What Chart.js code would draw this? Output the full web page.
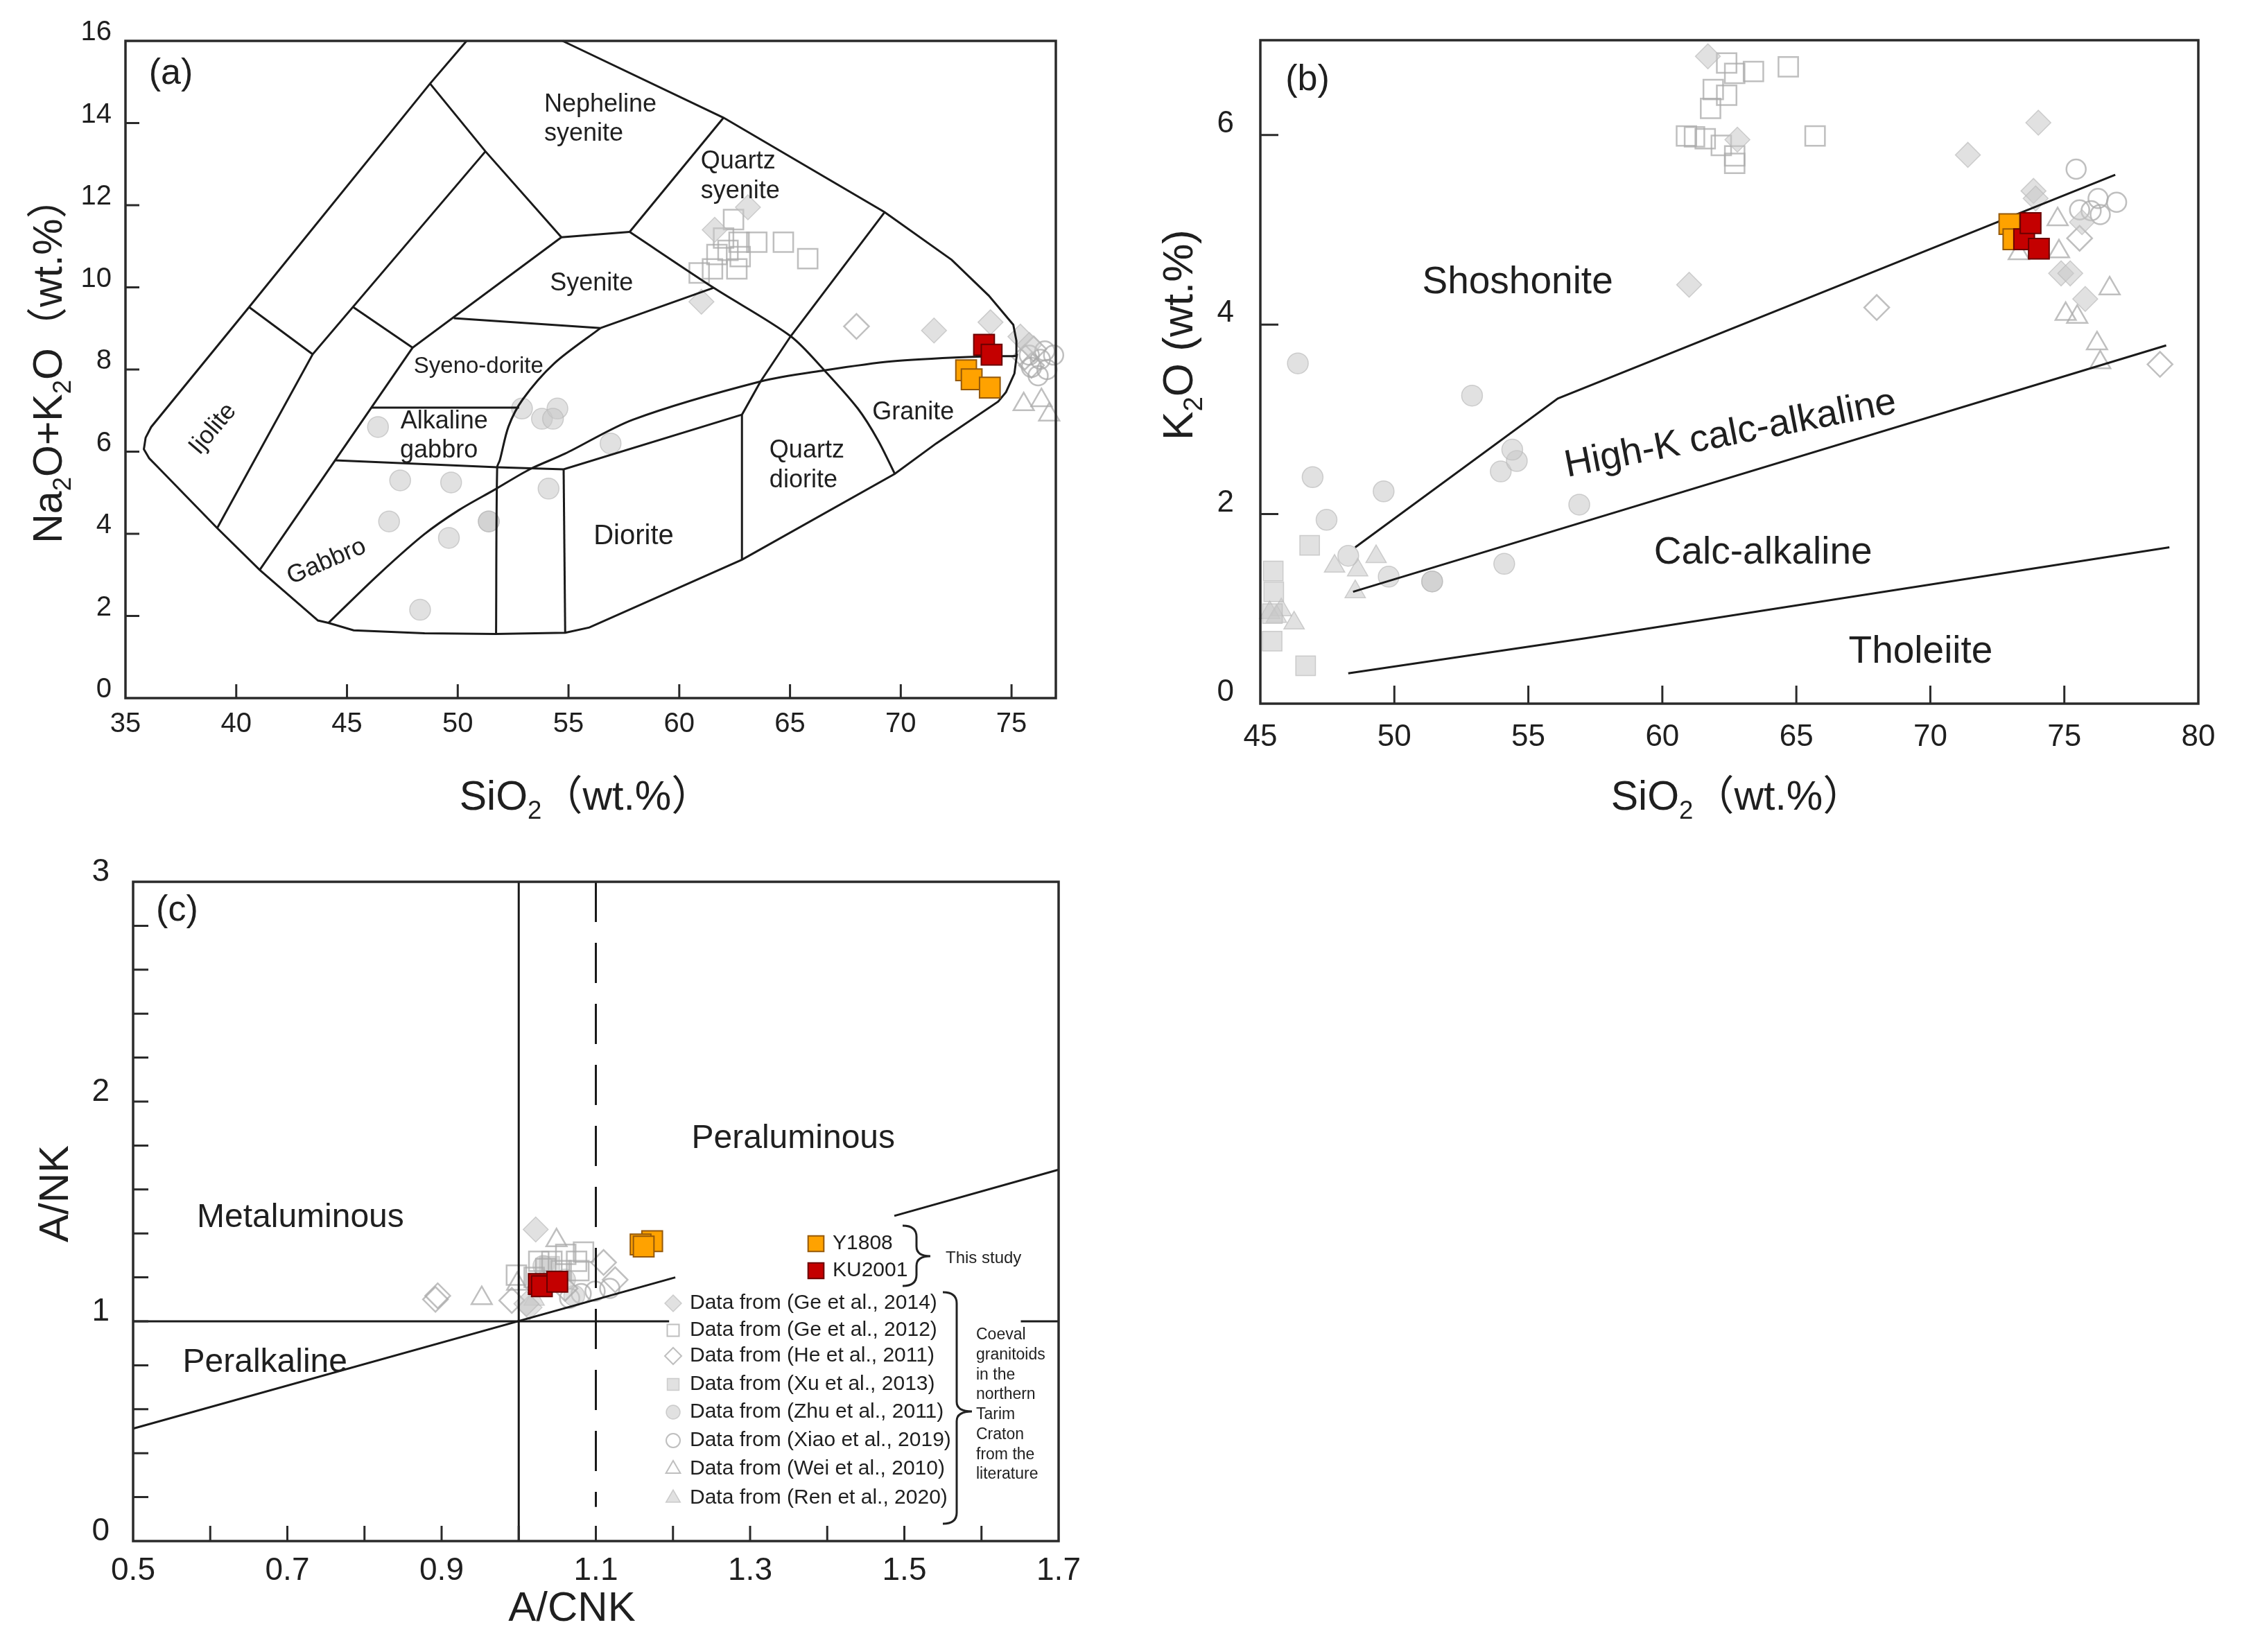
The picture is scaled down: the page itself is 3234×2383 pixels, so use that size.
<!DOCTYPE html>
<html>
<head>
<meta charset="utf-8">
<script src="https://cdn.jsdelivr.net/npm/chart.js@4.4.0/dist/chart.umd.min.js"></script>
<style>
  html, body { margin: 0; padding: 0; background: #fff; }
  #page { position: relative; width: 3234px; height: 2383px; overflow: hidden; background: #fff; }
  #page canvas { position: absolute; left: 0; top: 0; }
</style>
</head>
<body>
<div id="page">
  <canvas id="chartA" width="3234" height="2383"></canvas>
  <canvas id="chartB" width="3234" height="2383"></canvas>
  <canvas id="chartC" width="3234" height="2383"></canvas>
</div>
<script>
// ---------- (a) TAS diagram: SiO2 vs Na2O+K2O ----------
const xTicksA = [35, 40, 45, 50, 55, 60, 65, 70, 75];
const yTicksA = [0, 2, 4, 6, 8, 10, 12, 14, 16];
const xMarksA = [40, 45, 50, 55, 60, 65, 70, 75];
const yMarksA = [2, 4, 6, 8, 10, 12, 14];

const outerA = [[50.4,16],[48.75,14.96],[40.58,9.52],[36.16,6.6],[35.91,6.34],[35.83,6.06],[36.07,5.84],[36.43,5.64],
  [39.14,4.14],[41.06,3.12],[43.69,1.89],[44.16,1.83],[45.3,1.65],[48.5,1.58],[51.7,1.56],[54.85,1.59],[55.94,1.72],
  [62.83,3.37],[69.73,5.46],[71.6,6.2],[74.4,7.22],[74.75,7.45],[75.13,7.9],[75.24,8.36],[75.22,8.7],[75.08,9.09],
  [73.97,9.8],[72.3,10.67],[69.27,11.83],[62.0,14.13],[54.73,16]];
const ijoliteTopA = [[40.58,9.52],[43.45,8.37]];
const innerLeftA = [[39.14,4.14],[43.45,8.37],[51.25,13.31]];
const shortMidA = [[45.28,9.52],[47.96,8.53]];
const gabbroLeftA = [[41.06,3.12],[47.96,8.53],[54.68,11.22]];
const nephLowerA = [[48.75,14.96],[51.25,13.31],[54.68,11.22]];
const syeniteTopA = [[54.68,11.22],[57.76,11.35]];
const qzSyeLeftA = [[57.76,11.35],[62.0,14.13]];
const graniteLeftA = [[57.76,11.35],[61.55,9.99],[65.03,8.81],[66.55,7.98],[68.06,7.05],[68.97,6.28],[69.73,5.46]];
const syeniteBaseA = [[49.82,9.25],[56.45,9.01]];
const syeniteRightA = [[56.45,9.01],[61.55,9.99]];
const syenoRightA = [[56.45,9.01],[54.36,8.15],[52.93,7.27],[52.29,6.61],[51.9,5.79],[51.78,5.62],[51.73,1.56]];
const alkGabTopA = [[46.1,7.07],[52.77,7.07]];
const alkGabBaseA = [[44.46,5.79],[51.78,5.62],[54.78,5.57],[62.83,6.9]];
const dioriteLeftA = [[54.78,5.57],[54.85,1.59]];
const qzDioLeftA = [[69.27,11.83],[65.03,8.81],[63.67,7.71],[62.83,6.9],[62.83,3.37]];
const alkDivideA = [[44.16,1.83],[46.39,2.99],[48.47,3.98],[50.06,4.58],[51.65,5.07],[53.25,5.57],[54.84,5.95],
  [57.91,6.78],[63.67,7.71],[66.55,7.98],[69.58,8.2],[73.21,8.31],[75.24,8.33]];

const y1808A = [[72.95,7.98],[73.2,7.76],[74.02,7.56]];
const ku2001A = [[73.76,8.6],[74.1,8.36]];
const ge2014A = [[61.0,9.65],[61.6,11.4],[63.1,11.95],[71.5,8.95],[74.05,9.15],[75.4,8.8],[75.8,8.6]];
const ge2012A = [[60.9,10.35],[61.5,10.45],[61.7,10.8],[62.0,11.2],[62.45,11.65],[62.7,11.1],[62.75,10.75],
  [62.6,10.45],[63.5,11.1],[64.7,11.1],[65.8,10.7],[62.2,10.9]];
const he2011A = [[68.0,9.05],[75.6,8.3],[76.0,8.5],[75.9,8.1]];
const zhu2011A = [[46.4,6.6],[47.4,5.3],[49.7,5.25],[46.9,4.3],[51.4,4.3],[51.4,4.3],[49.6,3.9],[48.3,2.15],
  [52.9,7.05],[53.8,6.8],[54.5,7.05],[54.3,6.8],[54.1,5.1],[56.9,6.2]];
const xiao2019A = [[75.9,8.05],[76.3,8.25],[76.6,8.0],[76.9,8.35],[76.5,8.45],[76.2,7.85],[75.8,8.35]];
const wei2010A = [[75.55,7.15],[76.35,7.25],[76.7,6.9]];

// ---------- (b) SiO2 vs K2O ----------
const xTicksB = [45, 50, 55, 60, 65, 70, 75, 80];
const yTicksB = [0, 2, 4, 6];
const xMarksB = [50, 55, 60, 65, 70, 75];
const yMarksB = [2, 4, 6];

const shoshLineB = [[48.54,1.65],[56.1,3.22],[76.9,5.58]];
const highKLineB = [[48.46,1.18],[78.8,3.78]];
const tholLineB = [[48.28,0.32],[57.12,0.69],[78.92,1.65]];

const y1808B = [[72.95,5.06],[73.1,4.9]];
const ku2001B = [[73.5,4.9],[73.74,5.07],[74.05,4.8]];
const ge2014B = [[61.7,6.83],[62.8,5.95],[71.4,5.79],[74.03,6.13],[73.85,5.41],[73.93,5.33],[75.66,5.08],
  [74.88,4.54],[75.22,4.54],[75.78,4.27],[61.0,4.42]];
const ge2012B = [[62.4,6.76],[62.7,6.65],[63.4,6.67],[64.7,6.72],[61.9,6.48],[62.4,6.42],[61.8,6.28],[60.9,5.99],
  [61.2,5.98],[61.6,5.96],[62.2,5.89],[62.7,5.78],[62.7,5.7],[65.7,5.99]];
const he2011B = [[68.0,4.18],[78.57,3.58],[75.57,4.91]];
const xu2013B = [[46.84,1.67],[45.48,1.4],[45.5,1.18],[45.44,0.66],[46.69,0.4],[45.45,0.95]];
const zhu2011B = [[46.4,3.59],[46.95,2.39],[47.47,1.94],[48.28,1.56],[49.6,2.24],[49.79,1.34],[51.41,1.29],[51.41,1.29],
  [52.9,3.25],[53.97,2.45],[54.57,2.56],[54.4,2.68],[54.1,1.475],[56.9,2.1]];
const xiao2019B = [[75.44,5.64],[76.26,5.33],[76.95,5.29],[75.57,5.21],[76.34,5.16],[76.0,5.2]];
const wei2010B = [[74.75,5.11],[74.8,4.77],[76.69,4.38],[75.05,4.11],[75.48,4.08],[76.22,3.8],[76.34,3.6],[73.3,4.75]];
const ren2020B = [[47.77,1.45],[48.63,1.41],[49.32,1.55],[48.54,1.18],[45.78,0.99],[45.35,0.96],[46.26,0.85],[45.6,0.92]];

// ---------- (c) A/CNK vs A/NK ----------
const xTicksC = [0.5, 0.7, 0.9, 1.1, 1.3, 1.5, 1.7];
const yTicksC = [0, 1, 2, 3];
const xMarksC = [0.6, 0.7, 0.8, 0.9, 1.0, 1.1, 1.2, 1.3, 1.4, 1.5, 1.6];
const yMarksC = [0.2, 0.4, 0.6, 0.8, 1.0, 1.2, 1.4, 1.6, 1.8, 2.0, 2.2, 2.4, 2.6, 2.8];

const metaLineC = [[1.0,0],[1.0,3]];
const dashLineC = [[1.1,3],[1.1,0.155]];
const alkLineC1 = [[0.5,1],[1.195,1]];
const alkLineC2 = [[1.651,1],[1.7,1]];
const diagLineC1 = [[0.5,0.512],[1.203,1.2]];
const diagLineC2 = [[1.487,1.48],[1.7,1.69]];

const y1808C = [[1.173,1.365],[1.158,1.35],[1.162,1.34]];
const ku2001C = [[1.026,1.17],[1.03,1.16],[1.05,1.18]];
const ge2014C = [[1.022,1.418],[1.014,1.063],[1.01,1.08]];
const ge2012C = [[1.084,1.315],[1.061,1.305],[1.075,1.273],[1.026,1.273],[0.997,1.21],[1.055,1.231],[1.043,1.273],
  [1.078,1.231],[1.02,1.2],[1.035,1.24]];
const he2011C = [[0.895,1.116],[0.892,1.1],[1.11,1.268],[1.125,1.189],[0.991,1.095],[1.06,1.15]];
const xu2013C = [[1.04,1.25]];
const zhu2011C = [[1.032,1.252],[1.072,1.116],[1.06,1.19]];
const xiao2019C = [[1.099,1.137],[1.081,1.126],[1.066,1.105],[1.118,1.15]];
const wei2010C = [[0.952,1.105],[1.049,1.368],[0.998,1.17]];
const ren2020C = [[1.02,1.1]];

const sourceNames = ['Data from (Ge et al., 2014)', 'Data from (Ge et al., 2012)', 'Data from (He et al., 2011)',
  'Data from (Xu et al., 2013)', 'Data from (Zhu et al., 2011)', 'Data from (Xiao et al., 2019)',
  'Data from (Wei et al., 2010)', 'Data from (Ren et al., 2020)'];
const studyNames = ['Y1808', 'KU2001'];
const noteLines = ['Coeval', 'granitoids', 'in the', 'northern', 'Tarim', 'Craton', 'from the', 'literature'];

// ---------- drawing setup ----------
const PAGE_W = 3234, PAGE_H = 2383;
const AXIS_W = 160, AXIS_H = 130;   // room kept for tick labels (they are clipped to the scale box)
const FONT = "'Liberation Sans', Arial, 'Noto Sans CJK SC', sans-serif";
const INK = '#1f1f1f';
Chart.defaults.font.family = FONT;
Chart.defaults.color = INK;

const grayFill = 'rgba(200,200,200,0.55)';
const grayEdge = 'rgba(185,185,185,0.65)';
const grayLine = 'rgba(170,170,170,0.75)';
const clear = 'rgba(0,0,0,0)';

const styles = {
  y1808:  { shape: 'rect', r: 21, fill: '#ffa200', stroke: '#95590a', lw: 2 },
  ku2001: { shape: 'rect', r: 21, fill: '#c40000', stroke: '#6a0000', lw: 2 },
  ge2014: { shape: 'rectRot', r: 18, fill: grayFill, stroke: grayEdge, lw: 1.5 },
  ge2012: { shape: 'rect', r: 20, fill: clear, stroke: grayLine, lw: 2.5 },
  he2011: { shape: 'rectRot', r: 18, fill: clear, stroke: grayLine, lw: 2.5 },
  xu2013: { shape: 'rect', r: 20, fill: grayFill, stroke: grayEdge, lw: 1.5 },
  zhu2011: { shape: 'circle', r: 15, fill: grayFill, stroke: grayEdge, lw: 1.5 },
  xiao2019: { shape: 'circle', r: 14, fill: clear, stroke: grayLine, lw: 2.5 },
  wei2010: { shape: 'triangle', r: 17, fill: clear, stroke: grayLine, lw: 2.5 },
  ren2020: { shape: 'triangle', r: 17, fill: grayFill, stroke: grayEdge, lw: 1.5 }
};
const legendOrder = ['ge2014', 'ge2012', 'he2011', 'xu2013', 'zhu2011', 'xiao2019', 'wei2010', 'ren2020'];

function pts(arr) {
  return arr.map(p => ({ x: p[0], y: p[1] }));
}

function markSet(arr, key, order) {
  const st = styles[key];
  return {
    type: 'scatter', data: pts(arr), showLine: false, order: order, clip: false,
    pointStyle: st.shape, pointRadius: st.r, pointHoverRadius: st.r,
    pointBackgroundColor: st.fill, pointBorderColor: st.stroke, pointBorderWidth: st.lw
  };
}

function lineSet(arr, extra) {
  return Object.assign({
    type: 'scatter', data: pts(arr), showLine: true, pointRadius: 0, pointHoverRadius: 0,
    borderColor: '#1a1a1a', borderWidth: 3, fill: false, tension: 0, order: 1, clip: false
  }, extra || {});
}

function drawRich(ctx, parts, size, x, y, angle) {
  const sub = size * 0.62;
  ctx.save();
  ctx.translate(x, y);
  ctx.rotate(angle);
  let total = 0;
  const widths = parts.map(p => {
    ctx.font = (p[1] ? sub : size) + 'px ' + FONT;
    const w = ctx.measureText(p[0]).width;
    total += w;
    return w;
  });
  ctx.textAlign = 'left';
  ctx.textBaseline = 'alphabetic';
  ctx.fillStyle = INK;
  let cx = -total / 2;
  parts.forEach((p, i) => {
    ctx.font = (p[1] ? sub : size) + 'px ' + FONT;
    ctx.fillText(p[0], cx, p[1] ? size * 0.58 : size * 0.36);
    cx += widths[i];
  });
  ctx.restore();
}

function drawMark(ctx, key, x, y, r) {
  const st = styles[key];
  ctx.save();
  ctx.beginPath();
  if (st.shape === 'circle') {
    ctx.arc(x, y, r, 0, Math.PI * 2);
  } else if (st.shape === 'rect') {
    const h = r * Math.SQRT1_2;
    ctx.rect(x - h, y - h, 2 * h, 2 * h);
  } else if (st.shape === 'rectRot') {
    ctx.moveTo(x, y - r); ctx.lineTo(x + r, y); ctx.lineTo(x, y + r); ctx.lineTo(x - r, y); ctx.closePath();
  } else {
    ctx.moveTo(x, y - r);
    ctx.lineTo(x + r * 0.866, y + r * 0.5);
    ctx.lineTo(x - r * 0.866, y + r * 0.5);
    ctx.closePath();
  }
  ctx.fillStyle = st.fill;
  ctx.fill();
  ctx.lineWidth = Math.min(st.lw, 2);
  ctx.strokeStyle = st.stroke;
  ctx.stroke();
  ctx.restore();
}

function drawBrace(ctx, x, top, bottom, tipX, tipY) {
  const mid = x + 14;
  ctx.beginPath();
  ctx.moveTo(x - 6, top);
  ctx.quadraticCurveTo(mid, top, mid, top + 16);
  ctx.lineTo(mid, tipY - 14);
  ctx.quadraticCurveTo(mid, tipY, tipX, tipY);
  ctx.quadraticCurveTo(mid, tipY, mid, tipY + 14);
  ctx.lineTo(mid, bottom - 16);
  ctx.quadraticCurveTo(mid, bottom, x - 6, bottom);
  ctx.stroke();
}

const panelPlugin = {
  id: 'panel',
  afterDatasetsDraw(chart, args, o) {
    const ctx = chart.ctx;
    const a = chart.chartArea;
    const xs = chart.scales.x, ys = chart.scales.y;
    ctx.save();
    ctx.strokeStyle = '#2a2a2a';
    ctx.lineWidth = o.frameWidth;
    ctx.strokeRect(a.left, a.top, a.right - a.left, a.bottom - a.top);
    ctx.beginPath();
    o.xMarks.forEach(v => {
      const px = xs.getPixelForValue(v);
      ctx.moveTo(px, a.bottom); ctx.lineTo(px, a.bottom - o.tickLen);
    });
    o.yMarks.forEach(v => {
      const py = ys.getPixelForValue(v);
      ctx.moveTo(a.left, py); ctx.lineTo(a.left + o.tickLen, py);
    });
    ctx.lineWidth = 3;
    ctx.stroke();

    ctx.fillStyle = INK;
    o.labels.forEach(l => {
      ctx.save();
      ctx.translate(xs.getPixelForValue(l.x), ys.getPixelForValue(l.y));
      ctx.rotate((l.rot || 0) * Math.PI / 180);
      ctx.font = l.size + 'px ' + FONT;
      ctx.textAlign = l.align || 'center';
      ctx.textBaseline = 'middle';
      ctx.fillText(l.text, 0, 0);
      ctx.restore();
    });

    o.titles.forEach(t => drawRich(ctx, t.parts, t.size, t.x, t.y, (t.rot || 0) * Math.PI / 180));

    if (o.legend) {
      const g = o.legend;
      ctx.textAlign = 'left';
      ctx.textBaseline = 'middle';
      ctx.fillStyle = INK;
      ['y1808', 'ku2001'].forEach((k, i) => {
        drawMark(ctx, k, g.studyX, g.studyY[i], 16);
        ctx.font = '30px ' + FONT;
        ctx.fillText(studyNames[i], g.studyX + 24, g.studyY[i]);
      });
      legendOrder.forEach((k, i) => {
        drawMark(ctx, k, g.srcX, g.srcY[i], k === 'zhu2011' || k === 'xiao2019' ? 10 : 12);
        ctx.font = '30px ' + FONT;
        ctx.fillStyle = INK;
        ctx.fillText(sourceNames[i], g.srcX + 24, g.srcY[i]);
      });
      ctx.strokeStyle = '#222';
      ctx.lineWidth = 3;
      drawBrace(ctx, 1308, 1768, 1855, 1342, 1812);
      drawBrace(ctx, 1366, 1864, 2198, 1402, 2036);
      ctx.font = '24px ' + FONT;
      ctx.fillText('This study', 1364, 1815);
      ctx.font = '23px ' + FONT;
      noteLines.forEach((s, i) => ctx.fillText(s, 1408, 1926 + i * 28.7));
    }
    ctx.restore();
  }
};

function makeOptions(area, xr, yr, xt, yt, tick, panel) {
  return {
    responsive: false, animation: false, events: [], devicePixelRatio: 1,
    layout: { padding: { left: area.l - AXIS_W, top: area.t, right: PAGE_W - area.r, bottom: PAGE_H - area.b - AXIS_H } },
    plugins: { legend: { display: false }, tooltip: { enabled: false }, panel: panel },
    scales: {
      x: {
        type: 'linear', min: xr[0], max: xr[1],
        afterFit: s => { s.height = AXIS_H; },
        afterBuildTicks: s => { s.ticks = xt.map(v => ({ value: v })); },
        grid: { display: false }, border: { display: false },
        ticks: { font: { size: tick.size }, color: INK, padding: tick.xPad, autoSkip: false, maxRotation: 0,
          callback: v => String(v) }
      },
      y: {
        type: 'linear', min: yr[0], max: yr[1],
        afterFit: s => { s.width = AXIS_W; },
        afterBuildTicks: s => { s.ticks = yt.map(v => ({ value: v })); },
        grid: { display: false }, border: { display: false },
        ticks: { font: { size: tick.size }, color: INK, padding: tick.yPad, autoSkip: false, labelOffset: tick.yOff,
          callback: v => String(v) }
      }
    }
  };
}

// ---------- panel (a) ----------
const curve = { tension: 0.3 };
new Chart(document.getElementById('chartA'), {
  type: 'scatter',
  data: {
    datasets: [
      markSet(ku2001A, 'ku2001', 0),
      markSet(y1808A, 'y1808', 0),
      lineSet(outerA),
      lineSet(ijoliteTopA), lineSet(innerLeftA), lineSet(shortMidA), lineSet(gabbroLeftA), lineSet(nephLowerA),
      lineSet(syeniteTopA), lineSet(qzSyeLeftA), lineSet(graniteLeftA, curve), lineSet(syeniteBaseA),
      lineSet(syeniteRightA), lineSet(syenoRightA, curve), lineSet(alkGabTopA), lineSet(alkGabBaseA),
      lineSet(dioriteLeftA), lineSet(qzDioLeftA), lineSet(alkDivideA, curve),
      markSet(ge2014A, 'ge2014', 2), markSet(ge2012A, 'ge2012', 2), markSet(he2011A, 'he2011', 2),
      markSet(zhu2011A, 'zhu2011', 2), markSet(xiao2019A, 'xiao2019', 2), markSet(wei2010A, 'wei2010', 2)
    ]
  },
  options: makeOptions({ l: 181, t: 59, r: 1523, b: 1007 }, [35, 77], [0, 16], xTicksA, yTicksA,
    { size: 40, xPad: 6, yPad: 12, yOff: -12 },
    {
      frameWidth: 3.5, tickLen: 20, xMarks: xMarksA, yMarks: yMarksA,
      labels: [
        { text: '(a)', x: 37.05, y: 15.2, size: 52 },
        { text: 'Nepheline', x: 53.9, y: 14.45, size: 36, align: 'left' },
        { text: 'syenite', x: 53.9, y: 13.73, size: 36, align: 'left' },
        { text: 'Quartz', x: 60.97, y: 13.06, size: 36, align: 'left' },
        { text: 'syenite', x: 60.97, y: 12.33, size: 36, align: 'left' },
        { text: 'Syenite', x: 56.04, y: 10.09, size: 36 },
        { text: 'Syeno-dorite', x: 50.94, y: 8.07, size: 33 },
        { text: 'Alkaline', x: 49.39, y: 6.73, size: 36 },
        { text: 'gabbro', x: 49.15, y: 6.02, size: 36 },
        { text: 'Ijolite', x: 38.95, y: 6.55, size: 36, rot: -50 },
        { text: 'Gabbro', x: 44.08, y: 3.32, size: 36, rot: -23 },
        { text: 'Diorite', x: 57.94, y: 3.94, size: 40 },
        { text: 'Quartz', x: 64.07, y: 6.03, size: 36, align: 'left' },
        { text: 'diorite', x: 64.07, y: 5.29, size: 36, align: 'left' },
        { text: 'Granite', x: 70.56, y: 6.96, size: 36 }
      ],
      titles: [
        { parts: [['SiO', 0], ['2', 1], ['（wt.%）', 0]], size: 59, x: 845, y: 1147 },
        { parts: [['Na', 0], ['2', 1], ['O+K', 0], ['2', 1], ['O（wt.%）', 0]], size: 59, x: 68, y: 520, rot: -90 }
      ]
    }),
  plugins: [panelPlugin]
});

// ---------- panel (b) ----------
new Chart(document.getElementById('chartB'), {
  type: 'scatter',
  data: {
    datasets: [
      markSet(ku2001B, 'ku2001', 0),
      markSet(y1808B, 'y1808', 0),
      lineSet(shoshLineB), lineSet(highKLineB), lineSet(tholLineB),
      markSet(ge2014B, 'ge2014', 2), markSet(ge2012B, 'ge2012', 2), markSet(he2011B, 'he2011', 2),
      markSet(xu2013B, 'xu2013', 2), markSet(zhu2011B, 'zhu2011', 2), markSet(xiao2019B, 'xiao2019', 2),
      markSet(wei2010B, 'wei2010', 2), markSet(ren2020B, 'ren2020', 2)
    ]
  },
  options: makeOptions({ l: 1818, t: 58, r: 3171, b: 1015 }, [45, 80], [0, 7], xTicksB, yTicksB,
    { size: 44, xPad: 14, yPad: 30, yOff: -16 },
    {
      frameWidth: 3.5, tickLen: 26, xMarks: xMarksB, yMarks: yMarksB,
      labels: [
        { text: '(b)', x: 46.76, y: 6.58, size: 52 },
        { text: 'Shoshonite', x: 54.6, y: 4.44, size: 55 },
        { text: 'High-K calc-alkaline', x: 62.54, y: 2.84, size: 55, rot: -11 },
        { text: 'Calc-alkaline', x: 63.76, y: 1.59, size: 55 },
        { text: 'Tholeiite', x: 69.64, y: 0.54, size: 55 }
      ],
      titles: [
        { parts: [['SiO', 0], ['2', 1], ['（wt.%）', 0]], size: 59, x: 2506, y: 1147 },
        { parts: [['K', 0], ['2', 1], ['O (wt.%)', 0]], size: 62, x: 1698, y: 483, rot: -90 }
      ]
    }),
  plugins: [panelPlugin]
});

// ---------- panel (c) ----------
new Chart(document.getElementById('chartC'), {
  type: 'scatter',
  data: {
    datasets: [
      markSet(ku2001C, 'ku2001', 0),
      markSet(y1808C, 'y1808', 0),
      lineSet(metaLineC), lineSet(dashLineC, { borderDash: [58, 30] }),
      lineSet(alkLineC1), lineSet(alkLineC2), lineSet(diagLineC1), lineSet(diagLineC2),
      markSet(ge2014C, 'ge2014', 2), markSet(ge2012C, 'ge2012', 2), markSet(he2011C, 'he2011', 2),
      markSet(xu2013C, 'xu2013', 2), markSet(zhu2011C, 'zhu2011', 2), markSet(xiao2019C, 'xiao2019', 2),
      markSet(wei2010C, 'wei2010', 2), markSet(ren2020C, 'ren2020', 2)
    ]
  },
  options: makeOptions({ l: 192, t: 1272, r: 1527, b: 2223 }, [0.5, 1.7], [0, 3], xTicksC, yTicksC,
    { size: 46, xPad: 8, yPad: 26, yOff: -14 },
    {
      frameWidth: 3.5, tickLen: 22, xMarks: xMarksC, yMarks: yMarksC,
      labels: [
        { text: '(c)', x: 0.557, y: 2.87, size: 52 },
        { text: 'Metaluminous', x: 0.717, y: 1.47, size: 48 },
        { text: 'Peralkaline', x: 0.671, y: 0.81, size: 48 },
        { text: 'Peraluminous', x: 1.356, y: 1.83, size: 48 }
      ],
      titles: [
        { parts: [['A/CNK', 0]], size: 60, x: 825, y: 2316 },
        { parts: [['A/NK', 0]], size: 60, x: 76, y: 1722, rot: -90 }
      ],
      legend: {
        studyX: 1177, studyY: [1794, 1833],
        srcX: 971, srcY: [1880, 1919, 1956, 1997, 2037, 2078, 2119, 2161]
      }
    }),
  plugins: [panelPlugin]
});
</script>
</body>
</html>
